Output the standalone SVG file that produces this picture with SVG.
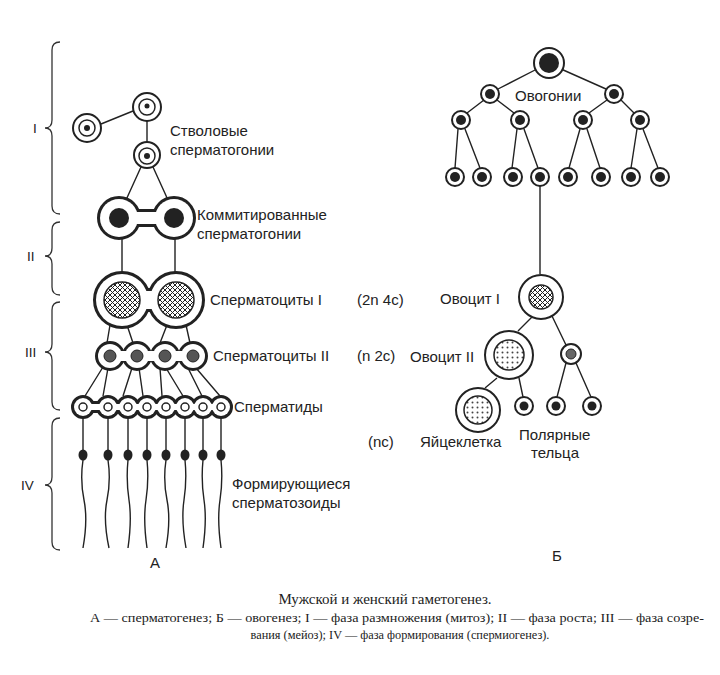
<svg xmlns="http://www.w3.org/2000/svg" width="720" height="675" viewBox="0 0 720 675">
<style>
.t{font-family:"Liberation Sans",Arial,sans-serif;font-size:15px;fill:#222}
.c{font-family:"Liberation Serif","Times New Roman",serif;fill:#222}
.o{fill:#fff;stroke:#222;stroke-width:2}
.s{fill:none;stroke:#222;stroke-width:4}
.w{fill:#fff}
.i{fill:#fff;stroke:#222;stroke-width:1.5}
.d{fill:#222}
.l{stroke:#222;stroke-width:1.4;fill:none}
.b{stroke:#333;stroke-width:1.3;fill:none}
</style>
<defs>
<pattern id="h" width="5" height="5" patternUnits="userSpaceOnUse"><rect width="5" height="5" fill="#fff"/><path d="M0 0L5 5M5 0L0 5" stroke="#222" stroke-width="1"/></pattern>
<pattern id="p" width="5" height="5" patternUnits="userSpaceOnUse"><rect width="5" height="5" fill="#fff"/><circle cx="2.5" cy="2.5" r="1" fill="#444"/></pattern>
</defs>
<rect width="720" height="675" fill="#fff"/>
<g id="braces" class="b">
<path d="M60 42Q52 42 52 50V120Q52 128 45 128Q52 128 52 136V206Q52 214 60 214"/>
<path d="M60 222Q52 222 52 230V248Q52 256 45 256Q52 256 52 264V287Q52 295 60 295"/>
<path d="M60 302Q52 302 52 310V344Q52 352 45 352Q52 352 52 360V402Q52 410 60 410"/>
<path d="M60 418Q52 418 52 426V477Q52 485 45 485Q52 485 52 493V542Q52 550 60 550"/>
</g>
<g class="t" style="font-size:13.5px"><text x="33" y="133">I</text><text x="27" y="261">II</text><text x="25" y="357">III</text><text x="21" y="490">IV</text></g>
<g id="connectors" class="l">
<path d="M101 124L133 111M147 121V142M141 167L126 200M153 167L168 200M122 238V274M175 238V274"/>
<path d="M110 325L107 343M127 325L133 343M167 325L160 343M186 325L190 343"/>
<path d="M103 367L85 396M108 368L103 396M132 368L123 396M139 368L143 396M160 368L162 396M166 368L183 396M188 368L202 396M196 368L220 396"/>
<path d="M83 417V450M108 417V450M128 417V450M147 417V450M166 417V450M185 417V450M203 417V450M221 417V450"/>
<path d="M83 460q-3 20 1 40t-1 48M108 460q3 20-1 40t2 48M128 460q-2 20 1 40t-1 48M147 460q2 20-1 40t1 48M166 460q-3 20 1 40t-1 48M185 460q2 20-1 40t2 48M203 460q-2 20 1 40t-1 48M221 460q2 20-1 40t1 48"/>
<path d="M537 69L498 89M561 69L606 89M484 100L467 113M497 100L514 113M607 100L589 113M621 100L634 113"/>
<path d="M458 129L455 168M465 129L480 168M517 129L512 168M524 129L538 168M580 129L569 168M587 129L600 168M637 129L631 168M643 129L658 168"/>
<path d="M540 186V274M533 316L518 331M552 316L566 345M497 378L485 388M519 378L523 397M566 363L557 397M576 363L591 397"/>
</g>
<g id="stem"><circle class="o" cx="87" cy="128" r="14"/><circle class="i" cx="87" cy="128" r="8"/><circle class="d" cx="87" cy="128" r="3"/>
<circle class="o" cx="147" cy="107" r="14"/><circle class="i" cx="147" cy="107" r="8"/><circle class="d" cx="147" cy="106" r="2.5"/>
<circle class="o" cx="147" cy="155" r="13"/><circle class="i" cx="147" cy="156" r="8"/><circle class="d" cx="147" cy="156" r="3"/></g>
<g id="committed">
<g class="s"><circle cx="119" cy="218" r="20"/><circle cx="174" cy="218" r="20"/><rect x="130" y="211" width="33" height="14"/></g>
<g class="w"><circle cx="119" cy="218" r="19"/><circle cx="174" cy="218" r="19"/><rect x="130" y="212" width="33" height="12"/></g>
<circle class="d" cx="119" cy="218" r="10"/><circle class="d" cx="174" cy="218" r="10"/></g>
<g id="spc1">
<g class="s"><circle cx="122" cy="300" r="27"/><circle cx="176" cy="300" r="27"/><rect x="140" y="290" width="18" height="20"/></g>
<g class="w"><circle cx="122" cy="300" r="26"/><circle cx="176" cy="300" r="26"/><rect x="140" y="291" width="18" height="18"/></g>
<circle cx="122" cy="300" r="18" fill="url(#h)" stroke="#222" stroke-width="1.5"/><circle cx="176" cy="300" r="18" fill="url(#h)" stroke="#222" stroke-width="1.5"/></g>
<g id="spc2">
<g class="s"><circle cx="110" cy="356" r="13"/><circle cx="137" cy="356" r="13"/><circle cx="165" cy="356" r="13"/><circle cx="193" cy="356" r="13"/></g>
<g class="w"><circle cx="110" cy="356" r="12"/><circle cx="137" cy="356" r="12"/><circle cx="165" cy="356" r="12"/><circle cx="193" cy="356" r="12"/><rect x="115" y="351" width="73" height="10"/></g>
<g fill="#555" stroke="#222"><circle cx="110" cy="356" r="6"/><circle cx="137" cy="356" r="6"/><circle cx="165" cy="356" r="6"/><circle cx="193" cy="356" r="6"/></g></g>
<g id="spermatids">
<g class="s"><circle cx="83" cy="407" r="10"/><circle cx="108" cy="407" r="10"/><circle cx="128" cy="407" r="10"/><circle cx="147" cy="407" r="10"/><circle cx="166" cy="407" r="10"/><circle cx="185" cy="407" r="10"/><circle cx="203" cy="407" r="10"/><circle cx="221" cy="407" r="10"/><rect x="88" y="403" width="128" height="8"/></g>
<g class="w"><circle cx="83" cy="407" r="9"/><circle cx="108" cy="407" r="9"/><circle cx="128" cy="407" r="9"/><circle cx="147" cy="407" r="9"/><circle cx="166" cy="407" r="9"/><circle cx="185" cy="407" r="9"/><circle cx="203" cy="407" r="9"/><circle cx="221" cy="407" r="9"/><rect x="88" y="404" width="128" height="6"/></g>
<g class="i"><circle cx="83" cy="407" r="4"/><circle cx="108" cy="407" r="4"/><circle cx="128" cy="407" r="4"/><circle cx="147" cy="407" r="4"/><circle cx="166" cy="407" r="4"/><circle cx="185" cy="407" r="4"/><circle cx="203" cy="407" r="4"/><circle cx="221" cy="407" r="4"/></g></g>
<g id="sperm" class="d"><ellipse cx="83" cy="455" rx="4.5" ry="5.5"/><ellipse cx="108" cy="455" rx="4.5" ry="5.5"/><ellipse cx="128" cy="455" rx="4.5" ry="5.5"/><ellipse cx="147" cy="455" rx="4.5" ry="5.5"/><ellipse cx="166" cy="455" rx="4.5" ry="5.5"/><ellipse cx="185" cy="455" rx="4.5" ry="5.5"/><ellipse cx="203" cy="455" rx="4.5" ry="5.5"/><ellipse cx="221" cy="455" rx="4.5" ry="5.5"/></g>
<g id="oogonia">
<circle class="o" cx="549" cy="63" r="15"/><circle class="d" cx="549" cy="63" r="10"/>
<g class="o"><circle cx="490" cy="94" r="9"/><circle cx="614" cy="94" r="9"/><circle cx="461" cy="120" r="9"/><circle cx="520" cy="120" r="9"/><circle cx="583" cy="120" r="9"/><circle cx="640" cy="120" r="9"/>
<circle cx="455" cy="177" r="9"/><circle cx="482" cy="177" r="9"/><circle cx="513" cy="177" r="9"/><circle cx="540" cy="177" r="9"/><circle cx="568" cy="177" r="9"/><circle cx="601" cy="177" r="9"/><circle cx="631" cy="177" r="9"/><circle cx="660" cy="177" r="9"/></g>
<g class="d"><circle cx="490" cy="94" r="5"/><circle cx="614" cy="94" r="5"/><circle cx="461" cy="120" r="5"/><circle cx="520" cy="120" r="5"/><circle cx="583" cy="120" r="5"/><circle cx="640" cy="120" r="5"/>
<circle cx="455" cy="177" r="5"/><circle cx="482" cy="177" r="5"/><circle cx="513" cy="177" r="5"/><circle cx="540" cy="177" r="5"/><circle cx="568" cy="177" r="5"/><circle cx="601" cy="177" r="5"/><circle cx="631" cy="177" r="5"/><circle cx="660" cy="177" r="5"/></g></g>
<g id="oocyte1"><circle class="o" cx="541" cy="297" r="22"/><circle cx="541" cy="297" r="12" fill="url(#h)" stroke="#222" stroke-width="1.5"/></g>
<g id="oocyte2"><circle class="o" cx="509" cy="355" r="24"/><circle cx="509" cy="355" r="15" fill="url(#p)" stroke="#222" stroke-width="1.5"/></g>
<g id="polar1"><circle class="o" cx="571" cy="354" r="10"/><circle cx="571" cy="354" r="5" fill="#666" stroke="#222"/></g>
<g id="egg"><circle class="o" cx="478" cy="410" r="22"/><circle cx="478" cy="410" r="14" fill="url(#p)" stroke="#222" stroke-width="1.5"/></g>
<g id="polar2"><circle class="o" cx="524" cy="406" r="9"/><circle class="d" cx="524" cy="406" r="4.5"/><circle class="o" cx="556" cy="406" r="9"/><circle class="d" cx="556" cy="406" r="4.5"/><circle class="o" cx="592" cy="406" r="9"/><circle class="d" cx="592" cy="406" r="4.5"/></g>
<g class="t">
<text x="170" y="136">Стволовые</text><text x="170" y="155">сперматогонии</text>
<text x="197" y="220">Коммитированные</text><text x="197" y="239">сперматогонии</text>
<text x="210" y="305">Сперматоциты I</text><text x="357" y="305">(2n 4c)</text>
<text x="213" y="361">Сперматоциты II</text><text x="357" y="361">(n 2c)</text>
<text x="234" y="412">Сперматиды</text><text x="368" y="447">(nc)</text>
<text x="232" y="489">Формирующиеся</text><text x="232" y="508">сперматозоиды</text>
<text x="150" y="568">А</text><text x="552" y="561">Б</text>
<text x="515" y="101">Овогонии</text>
<text x="440" y="304">Овоцит I</text><text x="410" y="362">Овоцит II</text>
<text x="420" y="447">Яйцеклетка</text><text x="519" y="440">Полярные</text><text x="531" y="458">тельца</text>
</g>
<g class="c">
<text x="385" y="604" font-size="15" text-anchor="middle">Мужской и женский гаметогенез.</text>
<text x="397" y="622" font-size="12.3" text-anchor="middle" textLength="614" lengthAdjust="spacingAndGlyphs">А — сперматогенез; Б — овогенез; I — фаза размножения (митоз); II — фаза роста; III — фаза созре-</text>
<text x="400" y="639" font-size="12.3" text-anchor="middle">вания (мейоз); IV — фаза формирования (спермиогенез).</text>
</g>
</svg>
